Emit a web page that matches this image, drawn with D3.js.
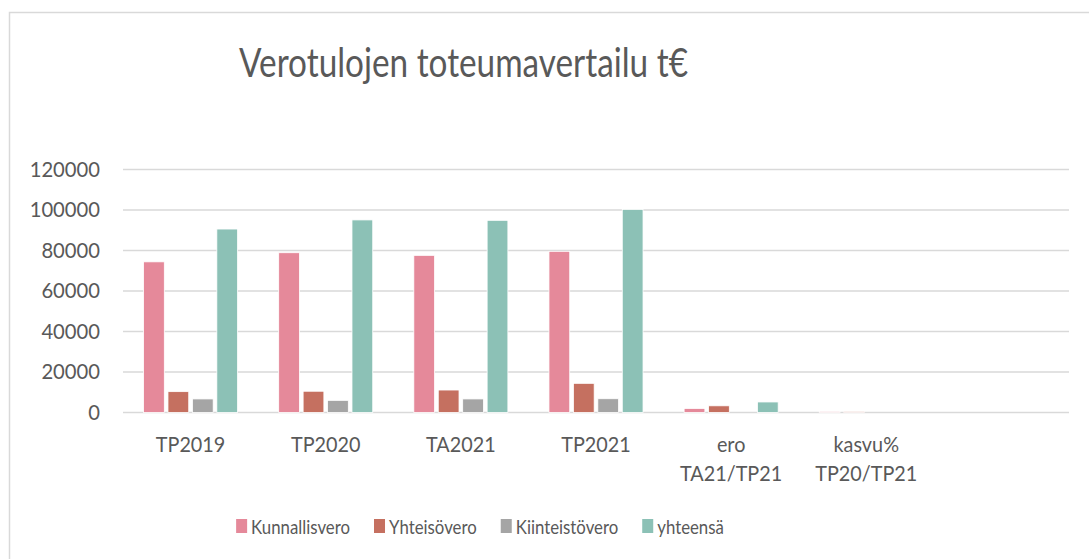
<!DOCTYPE html>
<html><head><meta charset="utf-8">
<script src="https://cdn.jsdelivr.net/npm/d3@7"></script>
<style>
html,body{margin:0;padding:0;background:#fff;}
svg{display:block;font-family:Lato,"Open Sans",sans-serif;}
</style></head>
<body>
<script>
const categories = ["TP2019","TP2020","TA2021","TP2021","ero\nTA21/TP21","kasvu%\nTP20/TP21",""];
const seriesNames = ["Kunnallisvero","Yhteisövero","Kiinteistövero","yhteensä"];
const kunnallisvero = [74400, 78900, 77600, 79600, 2000, 500, null];
const yhteisovero   = [10300, 10500, 11100, 14400, 3300, 500, null];
const kiinteistovero= [6700, 6000, 6700, 6800, 0, null, null];
const yhteensa      = [90600, 95100, 94900, 100300, 5200, null, null];
const yTicks = [0,20000,40000,60000,80000,100000,120000];
const colors = ["#E5899A","#C57060","#A5A5A5","#8CC1B6"];
const seriesValues = [kunnallisvero, yhteisovero, kiinteistovero, yhteensa];

(function(){
const W=1089,H=559;
const svg=d3.select("body").append("svg").attr("width",W).attr("height",H);
svg.append("rect").attr("x",9.5).attr("y",12.5).attr("width",W+20).attr("height",H+20)
  .attr("fill","#fff").attr("stroke","#d9d9d9").attr("stroke-width",1.5);

function squeeze(sel,k){
  sel.each(function(){
    const w=this.getComputedTextLength();
    d3.select(this).attr("textLength",w*k).attr("lengthAdjust","spacingAndGlyphs");
  });
}

const pl=123,pr=1069,pt=169.5,pb=412.5;
const x0=d3.scaleBand().domain(d3.range(categories.length)).range([pl,pr]).paddingInner(0.304).paddingOuter(0.152);
const x1=d3.scaleBand().domain(d3.range(seriesNames.length)).range([0,x0.bandwidth()]).paddingInner(0.15);
const y=d3.scaleLinear().domain([0,120000]).range([pb,pt]);

svg.append("g").selectAll("line").data(yTicks).join("line")
  .attr("x1",pl).attr("x2",pr).attr("y1",d=>y(d)).attr("y2",d=>y(d))
  .attr("stroke","#d9d9d9").attr("stroke-width",1.5);

const yAxis=d3.axisLeft(y).tickValues(yTicks).tickFormat(d3.format("d")).tickSize(0).tickPadding(0);
const ga=svg.append("g").attr("transform","translate(100,0)").call(yAxis);
ga.select(".domain").remove();
ga.selectAll("text").attr("fill","#595959").style("font-size","21.5px").style("font-family","Lato");
squeeze(ga.selectAll("text"),0.94);

const g=svg.append("g");
seriesValues.forEach((vals,si)=>{
  g.append("g").selectAll("rect").data(vals.map((v,i)=>({v,i})).filter(d=>d.v!=null))
   .join("rect")
   .attr("x",d=>x0(d.i)+x1(si)).attr("width",x1.bandwidth())
   .attr("y",d=>y(d.v)).attr("height",d=>y(0)-y(d.v))
   .attr("fill",colors[si]).attr("stroke","#fff").attr("stroke-width",0.8);
});

const cl=svg.append("g");
categories.forEach((c,i)=>{
  const lines=c.split("\n");
  lines.forEach((ln,j)=>{
    cl.append("text").attr("text-anchor","middle").attr("fill","#595959")
      .style("font-size","22px")
      .attr("x",x0(i)+x0.bandwidth()/2).attr("y",452+j*29).text(ln);
  });
});
squeeze(cl.selectAll("text"),0.9);

const title=svg.append("text").attr("x",463.5).attr("y",77).attr("text-anchor","middle")
  .attr("fill","#595959").style("font-size","40px").text("Verotulojen toteumavertailu t€");
title.attr("textLength",449).attr("lengthAdjust","spacingAndGlyphs");

const lg=svg.append("g");
let cx=0;
seriesNames.forEach((n,i)=>{
  const it=lg.append("g").attr("transform",`translate(${cx},0)`);
  it.append("rect").attr("x",0).attr("y",519).attr("width",11).attr("height",14).attr("fill",colors[i]);
  const t=it.append("text").attr("x",15).attr("y",534).attr("fill","#595959").style("font-size","20px").text(n);
  const w=t.node().getComputedTextLength()*0.84;
  t.attr("textLength",w).attr("lengthAdjust","spacingAndGlyphs");
  cx+=15+w+24;
});
const total=cx-24;
lg.attr("transform",`translate(${480-total/2},0)`);
})();
</script>
</body></html>
